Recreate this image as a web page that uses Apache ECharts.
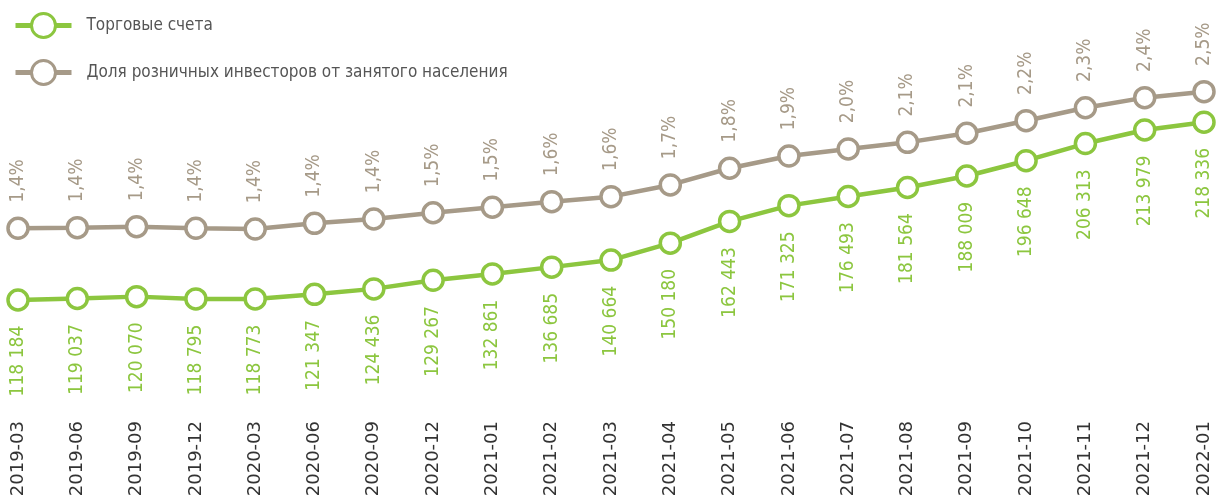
<!DOCTYPE html>
<html>
<head>
<meta charset="utf-8">
<script src="https://cdn.jsdelivr.net/npm/echarts@6/dist/echarts.min.js"></script>
<style>
    html, body { margin: 0; padding: 0; background: #fff; }
    #chart { width: 1218px; height: 503px; }
</style>
</head>
<body>
<div id="chart"></div>
<script>
var categories = ['2019-03', '2019-06', '2019-09', '2019-12', '2020-03', '2020-06', '2020-09',
    '2020-12', '2021-01', '2021-02', '2021-03', '2021-04', '2021-05', '2021-06', '2021-07',
    '2021-08', '2021-09', '2021-10', '2021-11', '2021-12', '2022-01'];
// торговые счета
var accounts = [118184, 119037, 120070, 118795, 118773, 121347, 124436, 129267, 132861, 136685,
    140664, 150180, 162443, 171325, 176493, 181564, 188009, 196648, 206313, 213979, 218336];
// доля розничных инвесторов, % (оценка по положению точек)
var share = [1.397, 1.402, 1.410, 1.397, 1.391, 1.437, 1.472, 1.522, 1.566, 1.611, 1.651,
    1.745, 1.879, 1.977, 2.034, 2.087, 2.160, 2.261, 2.365, 2.446, 2.494];
var shareLabels = ['1,4%', '1,4%', '1,4%', '1,4%', '1,4%', '1,4%', '1,4%', '1,5%', '1,5%', '1,6%',
    '1,6%', '1,7%', '1,8%', '1,9%', '2,0%', '2,1%', '2,1%', '2,2%', '2,3%', '2,4%', '2,5%'];

var green = '#8cc63f',
    brown = '#a69a88',
    narrow = '"Liberation Sans Narrow", "DejaVu Sans Condensed", "Open Sans", sans-serif';

function fmtNum(v) {
    return String(v).replace(/\B(?=(\d{3})+(?!\d))/g, ' ');
}

var chart = echarts.init(document.getElementById('chart'));
chart.setOption({
    animation: false,
    legend: {
        orient: 'vertical',
        left: 8,
        top: 7,
        itemWidth: 56,
        itemHeight: 30,
        itemGap: 20,
        lineStyle: { width: 5 },
        itemStyle: { borderWidth: 3 },
        textStyle: {
            fontFamily: narrow,
            fontSize: 17,
            color: '#555',
            padding: [0, 0, 0, 10]
        },
        data: ['Торговые счета', 'Доля розничных инвесторов от занятого населения']
    },
    grid: {
        left: 18,
        right: 14,
        top: 66,
        bottom: 82,
        outerBoundsMode: 'none'
    },
    xAxis: {
        type: 'category',
        boundaryGap: false,
        data: categories,
        axisLine: { show: false },
        axisTick: { show: false },
        axisLabel: {
            rotate: 90,
            margin: 0,
            color: '#333',
            fontFamily: 'DejaVu Sans',
            fontSize: 18,
            interval: 0
        }
    },
    yAxis: [{
        type: 'value',
        min: 50000,
        max: 250000,
        show: false
    }, {
        type: 'value',
        min: -0.15,
        max: 2.7,
        show: false
    }],
    series: [{
        name: 'Торговые счета',
        type: 'line',
        yAxisIndex: 0,
        data: accounts,
        symbol: 'circle',
        symbolSize: 20,
        showAllSymbol: true,
        z: 3,
        lineStyle: { color: green, width: 4.5 },
        itemStyle: { color: '#fff', borderColor: green, borderWidth: 3.5 },
        label: {
            show: true,
            position: 'bottom',
            rotate: 90,
            align: 'right',
            verticalAlign: 'middle',
            distance: 14,
            color: green,
            fontFamily: narrow,
            fontSize: 19,
            formatter: function (p) {
                return fmtNum(p.value);
            }
        }
    }, {
        name: 'Доля розничных инвесторов от занятого населения',
        type: 'line',
        yAxisIndex: 1,
        data: share,
        symbol: 'circle',
        symbolSize: 20,
        showAllSymbol: true,
        z: 2,
        lineStyle: { color: brown, width: 4.5 },
        itemStyle: { color: '#fff', borderColor: brown, borderWidth: 3.5 },
        label: {
            show: true,
            position: 'top',
            rotate: 90,
            align: 'left',
            verticalAlign: 'middle',
            distance: 14,
            color: brown,
            fontFamily: narrow,
            fontSize: 19,
            formatter: function (p) {
                return shareLabels[p.dataIndex];
            }
        }
    }]
});
</script>
</body>
</html>
